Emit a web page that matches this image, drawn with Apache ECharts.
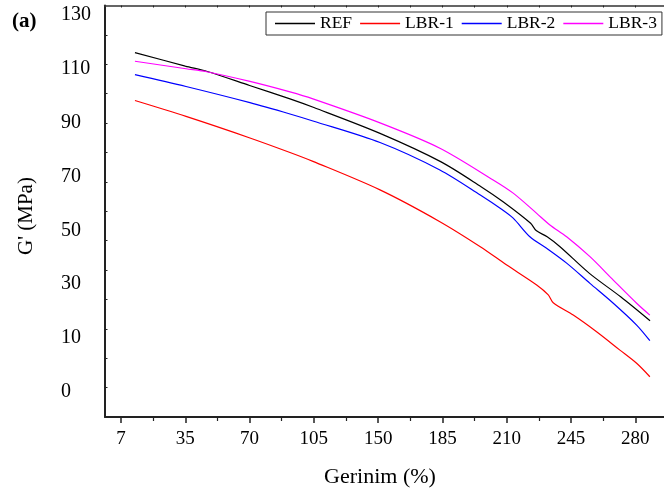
<!DOCTYPE html>
<html>
<head>
<meta charset="utf-8">
<script src="https://cdn.jsdelivr.net/npm/echarts@6/dist/echarts.min.js"></script>
<style>html,body{margin:0;padding:0;background:#fff}#c{width:664px;height:497px}</style>
</head>
<body>
<div id="c"></div>
<script>
// ---- data (x in strain-scale units, y in G' units) ----
const seriesNames = ['REF', 'LBR-1', 'LBR-2', 'LBR-3'];
const refX = [7.6, 35, 47, 70, 92, 105, 141, 174, 196, 208, 223, 226, 232, 239, 255, 272, 288];
const refY = [116, 111, 109, 103.8, 98.8, 95.6, 86, 75.5, 66.2, 60.6, 52.6, 49.9, 47.6, 43.9, 34, 25.3, 16.4];
const lbr1X = [7.6, 35.4, 70.2, 92, 104.5, 141, 173.6, 195.6, 210, 226.3, 232.6, 235.3, 246.2, 258.9, 271.6, 280.7, 287.9];
const lbr1Y = [98.2, 92.3, 84.3, 78.9, 75.6, 65, 53.2, 43.9, 37.1, 29.7, 26, 23.1, 18.5, 12.3, 5.5, 0.6, -4.4];
const lbr2X = [7.6, 35.4, 70.2, 92, 104.5, 141, 173.6, 195.6, 207.2, 213.5, 222.6, 231.7, 242.6, 255.3, 268, 280.7, 287.9];
const lbr2Y = [107.8, 103.4, 97.4, 93.2, 90.6, 82.6, 72.4, 63.1, 57.8, 54.5, 47.6, 43.3, 37.8, 30.3, 22.9, 14.8, 9.0];
const lbr3X = [7.6, 35.4, 46.6, 70.2, 92, 104.5, 141, 173.6, 202.6, 213.5, 226.3, 233.5, 242.6, 255.3, 268, 280.7, 287.9];
const lbr3Y = [112.8, 110, 108.9, 105.3, 101.4, 98.8, 89.9, 80.5, 68.7, 63.8, 56.3, 52, 47.6, 40.2, 31.5, 22.9, 18.5];
const xTickValues = [0, 35, 70, 105, 140, 175, 210, 245, 280];
const xTickLabels = ['7', '35', '70', '105', '150', '185', '210', '245', '280'];
const yTickValues = [-10, 10, 30, 50, 70, 90, 110, 130];
const yTickLabels = ['0', '10', '30', '50', '70', '90', '110', '130'];
const colors = ['#000000', '#ff0000', '#0000ff', '#ff00ff'];

// ---- axis extents ----
const X_MIN = -8.7, X_MAX = 295.6;
const Y_MIN = -19.35, Y_MAX = 133.5;
const FONT = '"Liberation Serif", "Times New Roman", serif';

const zip = (xs, ys) => xs.map((x, i) => [x, ys[i]]);
const allX = [refX, lbr1X, lbr2X, lbr3X];
const allY = [refY, lbr1Y, lbr2Y, lbr3Y];

const minorX = xTickValues.slice(0, -1).map((v, i) => (v + xTickValues[i + 1]) / 2);
const topX = [];
for (let i = 0; i < xTickValues.length; i++) { topX.push(xTickValues[i]); if (i < minorX.length) topX.push(minorX[i]); }
const yTicks = [];
for (let k = 1; k < 14; k++) yTicks.push(Y_MIN + k * (Y_MAX - Y_MIN) / 14);

const chart = echarts.init(document.getElementById('c'), null, { renderer: 'canvas' });
const axisCol = '#222';
chart.setOption({
  animation: false,
  backgroundColor: '#fff',
  textStyle: { fontFamily: FONT },
  grid: { left: 105, right: 0, top: 5.5, bottom: 80, containLabel: false },
  legend: {
    data: seriesNames,
    left: 266, top: 12,
    orient: 'horizontal',
    icon: 'rect',
    itemWidth: 40, itemHeight: 1.3, itemGap: 8,
    padding: [2, 5, 2, 9],
    borderColor: '#333', borderWidth: 1,
    textStyle: { fontFamily: FONT, fontSize: 17.5, color: '#000', lineHeight: 19 }
  },
  xAxis: [
    {
      type: 'value', min: X_MIN, max: X_MAX, position: 'bottom',
      axisLine: { onZero: false, lineStyle: { color: axisCol, width: 2 } },
      axisTick: { customValues: xTickValues, length: 6, lineStyle: { color: axisCol, width: 1.5 } },
      axisLabel: { customValues: xTickValues, margin: 13, fontFamily: FONT, fontSize: 19, color: '#000',
        formatter: v => { const i = xTickValues.indexOf(v); return i >= 0 ? xTickLabels[i] : ''; } },
      splitLine: { show: false }
    },
    {
      type: 'value', min: X_MIN, max: X_MAX, position: 'bottom',
      axisLine: { show: false, onZero: false },
      axisTick: { customValues: minorX, length: 4, lineStyle: { color: axisCol, width: 1.2 } },
      axisLabel: { show: false },
      splitLine: { show: false }
    },
    {
      type: 'value', min: X_MIN, max: X_MAX, position: 'top',
      axisLine: { onZero: false, lineStyle: { color: '#333', width: 1.5 } },
      axisTick: { customValues: topX, inside: true, length: 2, lineStyle: { color: axisCol, width: 1 } },
      axisLabel: { show: false },
      splitLine: { show: false }
    }
  ],
  yAxis: [
    {
      type: 'value', min: Y_MIN, max: Y_MAX, position: 'left',
      axisLine: { onZero: false, lineStyle: { color: axisCol, width: 2 } },
      axisTick: { customValues: yTicks, inside: true, length: 2.5, lineStyle: { color: axisCol, width: 1 } },
      axisLabel: { customValues: yTickValues, margin: 44, align: 'left', fontFamily: FONT, fontSize: 20, color: '#000',
        formatter: v => { const i = yTickValues.indexOf(v); return i >= 0 ? yTickLabels[i] : ''; } },
      splitLine: { show: false }
    }
  ],
  series: seriesNames.map((n, i) => ({
    name: n, type: 'line', xAxisIndex: 0, yAxisIndex: 0,
    data: zip(allX[i], allY[i]),
    symbol: 'none', smooth: 0.3,
    lineStyle: { color: colors[i], width: 1.2 },
    itemStyle: { color: colors[i] }
  })),
  graphic: [
    { type: 'text', left: 12, top: 11, style: { text: '(a)', font: 'bold 21px ' + FONT, fill: '#000' } },
    { type: 'text', x: 380, y: 477, style: { text: 'Gerinim (%)', font: '22px ' + FONT, fill: '#000', align: 'center', verticalAlign: 'middle' } },
    { type: 'text', x: 26, y: 216, rotation: Math.PI / 2, style: { text: "G' (MPa)", font: '21px ' + FONT, fill: '#000', align: 'center', verticalAlign: 'middle' } }
  ]
});
</script>
</body>
</html>
